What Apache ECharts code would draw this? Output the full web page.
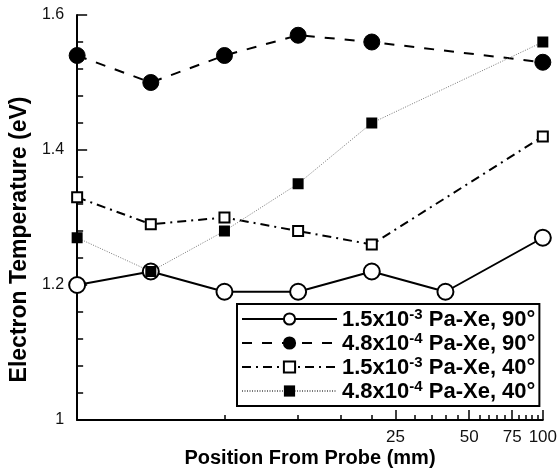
<!DOCTYPE html>
<html><head><meta charset="utf-8">
<script src="https://cdn.jsdelivr.net/npm/echarts@6/dist/echarts.min.js"></script>
<style>html,body{margin:0;padding:0;background:#fff}#c{width:560px;height:473px}</style>
</head><body><div id="c"></div>
<script>
// Positions from probe (mm) – log axis
const positions = [1.25, 2.5, 5, 10, 20, 40, 100];
// Series labels (^ marks the exponent shown as superscript)
const seriesNames = [
  '1.5x10^-3 Pa-Xe, 90°',
  '4.8x10^-4 Pa-Xe, 90°',
  '1.5x10^-3 Pa-Xe, 40°',
  '4.8x10^-4 Pa-Xe, 40°'
];
// Electron temperature (eV); null = no measurement
const tempHighP90 = [1.20, 1.22, 1.19, 1.19, 1.22, 1.19, 1.27];
const tempLowP90  = [1.54, 1.50, 1.54, 1.57, 1.56, null, 1.53];
const tempHighP40 = [1.33, 1.29, 1.30, 1.28, 1.26, null, 1.42];
const tempLowP40  = [1.27, 1.22, 1.28, 1.35, 1.44, null, 1.56];
// x-axis tick values (mm)
const xMinorTicks = [5, 10, 15, 20, 30, 35, 40, 45, 55, 60, 65, 70, 80, 85, 90, 95];
const xMajorTicks = [25, 50, 75, 100];
const yTicks = [1, 1.2, 1.4, 1.6];

function pairs(vals) {
  const out = [];
  positions.forEach((p, i) => { if (vals[i] != null) out.push([p, vals[i]]); });
  return out;
}

const FONT = 'Liberation Sans, Arial, Helvetica, sans-serif';
const xMin = positions[0], xMax = 100;
const lmin = Math.log10(xMin), lmax = Math.log10(xMax);

const chart = echarts.init(document.getElementById('c'));
chart.setOption({
  animation: false,
  backgroundColor: '#fff',
  grid: { left: 76, right: 16, top: 15, bottom: 53 },
  xAxis: [
    {
      type: 'log', logBase: 10, min: xMin, max: xMax, position: 'bottom',
      axisLine: { lineStyle: { color: '#000', width: 2 } },
      axisTick: { show: false }, axisLabel: { show: false }, splitLine: { show: false },
      minorTick: { show: false }, minorSplitLine: { show: false },
      name: 'Position From Probe (mm)', nameLocation: 'middle', nameGap: 28,
      nameTextStyle: { fontFamily: FONT, fontWeight: 'bold', fontSize: 20, color: '#000' }
    },
    {
      type: 'value', min: lmin, max: lmax, position: 'bottom',
      axisLine: { show: false }, splitLine: { show: false },
      axisTick: { show: true, inside: true, length: 5, lineStyle: { color: '#000', width: 1.5 },
        customValues: xMinorTicks.map(Math.log10) },
      axisLabel: { show: false }
    },
    {
      type: 'value', min: lmin, max: lmax, position: 'bottom',
      axisLine: { show: false }, splitLine: { show: false },
      axisTick: { show: true, inside: true, length: 10, lineStyle: { color: '#000', width: 1.5 },
        customValues: xMajorTicks.map(Math.log10) },
      axisLabel: { show: true, margin: 9, fontFamily: FONT, fontSize: 17, color: '#111',
        customValues: xMajorTicks.map(Math.log10),
        formatter: v => String(Math.round(Math.pow(10, v))) }
    }
  ],
  yAxis: {
    type: 'value', min: yTicks[0], max: yTicks[yTicks.length - 1], interval: 0.2,
    axisLine: { show: true, lineStyle: { color: '#000', width: 2 } },
    axisTick: { show: true, inside: true, length: 10, lineStyle: { color: '#000', width: 1.5 } },
    minorTick: { show: true, splitNumber: 5, length: 6, lineStyle: { color: '#000', width: 1.5 } },
    splitLine: { show: false },
    axisLabel: { margin: 13, fontFamily: FONT, fontSize: 16, color: '#111' },
    name: 'Electron Temperature (eV)', nameLocation: 'middle', nameGap: 46,
    nameTextStyle: { fontFamily: FONT, fontWeight: 'bold', fontSize: 23, color: '#000',
      padding: [0, 44, 0, 0] }
  },
  legend: {
    orient: 'vertical', left: 237, top: 304,
    padding: [3, 4, 3, 4], itemGap: 0, itemWidth: 95, itemHeight: 14,
    backgroundColor: '#fff', borderColor: '#000', borderWidth: 2, borderRadius: 0,
    data: seriesNames,
    formatter: name => {
      const m = name.match(/^(.*?)\^(-?\d+)(.*)$/);
      return m ? '{a|' + m[1] + '}{s|' + m[2] + '}{a|' + m[3] + '}' : name;
    },
    textStyle: {
      fontFamily: FONT, fontWeight: 'bold', fontSize: 22, color: '#000',
      rich: {
        a: { fontFamily: FONT, fontWeight: 'bold', fontSize: 22, color: '#000', lineHeight: 24, verticalAlign: 'bottom' },
        s: { fontFamily: FONT, fontWeight: 'bold', fontSize: 15, color: '#000', lineHeight: 15, verticalAlign: 'top' }
      }
    }
  },
  series: [
    {
      name: seriesNames[0], type: 'line', data: pairs(tempHighP90),
      symbol: 'circle', symbolSize: 16,
      itemStyle: { color: '#fff', borderColor: '#000', borderWidth: 2 },
      lineStyle: { color: '#000', width: 2, type: 'solid' }
    },
    {
      name: seriesNames[1], type: 'line', data: pairs(tempLowP90),
      symbol: 'circle', symbolSize: 16,
      itemStyle: { color: '#000', borderColor: '#000', borderWidth: 1 },
      lineStyle: { color: '#000', width: 2, type: [10, 10] }
    },
    {
      name: seriesNames[2], type: 'line', data: pairs(tempHighP40),
      symbol: 'rect', symbolSize: 10,
      itemStyle: { color: '#fff', borderColor: '#000', borderWidth: 2 },
      lineStyle: { color: '#000', width: 2, type: [9, 5, 2, 5] }
    },
    {
      name: seriesNames[3], type: 'line', data: pairs(tempLowP40),
      symbol: 'rect', symbolSize: 11,
      itemStyle: { color: '#000', borderColor: '#000', borderWidth: 0 },
      lineStyle: { color: '#777', width: 1, type: [1, 1.5] }
    }
  ]
});
</script>
</body></html>
